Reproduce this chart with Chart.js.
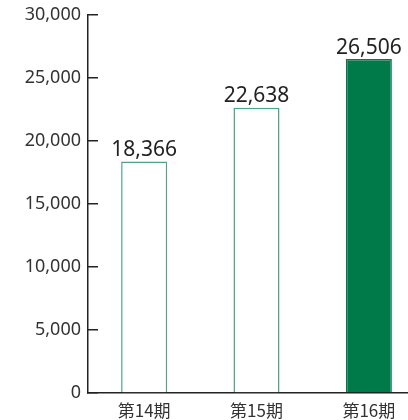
<!DOCTYPE html>
<html>
<head>
<meta charset="utf-8">
<script src="https://cdn.jsdelivr.net/npm/chart.js@4/dist/chart.umd.min.js"></script>
<style>
  html, body { margin: 0; padding: 0; background: #fff; overflow: hidden; }
  #wrap { position: relative; width: 425px; height: 420px; }
</style>
</head>
<body>
<div id="wrap"><canvas id="salesChart"></canvas></div>
<script>
// data
const periods = ['第14期', '第15期', '第16期'];
const values = [18366, 22638, 26506];
const yTicks = [0, 5000, 10000, 15000, 20000, 25000, 30000];

const outlineGreen = '#4fa383';
const solidGreen = '#007a48';

// draws the value above each bar
const valueLabels = {
    id: 'valueLabels',
    afterDatasetsDraw(chart) {
        const ctx = chart.ctx;
        const meta = chart.getDatasetMeta(0);
        ctx.save();
        ctx.font = '21px "Noto Sans", "DejaVu Sans", sans-serif';
        ctx.fillStyle = '#222';
        ctx.textAlign = 'center';
        ctx.textBaseline = 'bottom';
        meta.data.forEach((bar, i) => {
            ctx.fillText(values[i].toLocaleString('en-US'), bar.x, bar.y - 1);
        });
        ctx.restore();
    }
};

const ctx = document.getElementById('salesChart').getContext('2d');
const salesChart = new Chart(ctx, {
    type: 'bar',
    data: {
        labels: periods,
        datasets: [{
            data: values,
            backgroundColor: ['#ffffff', '#ffffff', solidGreen],
            borderColor: [outlineGreen, outlineGreen, solidGreen],
            borderWidth: 1.5,
            barPercentage: 0.41,
            categoryPercentage: 1
        }]
    },
    options: {
        responsive: true,
        maintainAspectRatio: false,
        animation: false,
        layout: { padding: { top: 15, right: 0, left: 0, bottom: 0 } },
        plugins: { legend: { display: false }, tooltip: { enabled: false } },
        scales: {
            y: {
                min: yTicks[0],
                max: yTicks[yTicks.length - 1],
                afterFit: s => { s.width = 88; s.paddingTop = 0; s.paddingBottom = 0; },
                afterBuildTicks: s => { s.ticks = yTicks.map(v => ({ value: v })); },
                ticks: {
                    padding: 17,
                    color: '#333',
                    font: { family: '"Noto Sans", "DejaVu Sans", sans-serif', size: 18 },
                    callback: v => v.toLocaleString('en-US')
                },
                grid: { drawOnChartArea: false, drawTicks: true, tickLength: -10, color: '#222', lineWidth: 1.5 },
                border: { color: '#222', width: 1.5 }
            },
            x: {
                afterFit: s => { s.height = 27; s.paddingLeft = 0; s.paddingRight = 0; },
                ticks: {
                    padding: 7,
                    color: '#333',
                    font: { family: '"Noto Sans CJK JP", "Noto Sans", sans-serif', size: 17 }
                },
                grid: { display: true, drawOnChartArea: false, drawTicks: false },
                border: { color: '#222', width: 1.5 }
            }
        }
    },
    plugins: [valueLabels]
});
</script>
</body>
</html>
